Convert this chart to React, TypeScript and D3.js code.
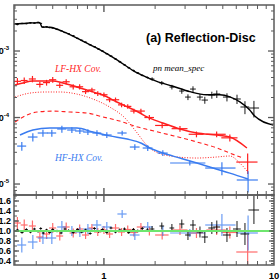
import * as d3 from "d3";

// pn mean spectrum (black)
const blackModelE = [0.296, 0.35, 0.42, 0.432, 0.48, 0.6, 0.75, 0.95, 1.2, 1.5, 1.65, 2.1, 2.55, 3.2, 4.0, 4.8, 5.5, 6.3, 7.2, 7.7, 9.9];
const blackModelV = [2.55e-3, 2.62e-3, 2.67e-3, 2.3e-3, 2.28e-3, 1.87e-3, 1.41e-3, 1.04e-3, 7.3e-4, 5.0e-4, 4.4e-4, 3.4e-4, 2.95e-4, 2.45e-4, 2.2e-4, 2.2e-4, 2.05e-4, 1.72e-4, 1.3e-4, 1.05e-4, 7.7e-5];
const blackE = [0.31, 0.33, 0.35, 0.37, 0.39, 0.41, 0.425, 0.44, 0.46, 0.48, 0.5, 0.53, 0.56, 0.59, 0.62, 0.66, 0.7, 0.74, 0.78, 0.83, 0.88, 0.93, 0.98, 1.04, 1.1, 1.17, 1.24, 1.32, 1.4, 1.49, 1.58, 1.68, 1.8, 1.92, 2.19, 2.51, 2.87, 3.12, 3.34, 3.67, 3.92, 4.31, 4.61, 5.29, 6.06, 6.75, 7.62];
const blackV = [2.5e-3, 2.6e-3, 2.58e-3, 2.66e-3, 2.62e-3, 2.7e-3, 2.6e-3, 2.28e-3, 2.32e-3, 2.25e-3, 2.22e-3, 2.12e-3, 2.02e-3, 1.9e-3, 1.82e-3, 1.7e-3, 1.55e-3, 1.45e-3, 1.36e-3, 1.24e-3, 1.16e-3, 1.07e-3, 1.0e-3, 9.1e-4, 8.4e-4, 7.6e-4, 6.9e-4, 6.2e-4, 5.6e-4, 5.1e-4, 4.7e-4, 4.3e-4, 4.0e-4, 3.79e-4, 3.3e-4, 2.87e-4, 2.5e-4, 2.03e-4, 2.68e-4, 2.03e-4, 1.83e-4, 2.18e-4, 2.26e-4, 2.03e-4, 1.9e-4, 1.44e-4, 1.39e-4];
const blackEw = [0.006, 0.007, 0.007, 0.007, 0.008, 0.008, 0.008, 0.009, 0.009, 0.01, 0.01, 0.011, 0.011, 0.012, 0.012, 0.013, 0.014, 0.015, 0.016, 0.017, 0.018, 0.019, 0.02, 0.021, 0.022, 0.023, 0.025, 0.026, 0.028, 0.03, 0.032, 0.034, 0.036, 0.06, 0.07, 0.08, 0.1, 0.12, 0.13, 0.15, 0.17, 0.2, 0.22, 0.28, 0.32, 0.4, 0.55];
const blackRel = [0.025, 0.025, 0.025, 0.025, 0.025, 0.025, 0.025, 0.025, 0.025, 0.025, 0.025, 0.025, 0.025, 0.025, 0.025, 0.025, 0.025, 0.025, 0.025, 0.025, 0.025, 0.025, 0.025, 0.025, 0.025, 0.025, 0.03, 0.03, 0.03, 0.03, 0.03, 0.03, 0.035, 0.06, 0.07, 0.08, 0.09, 0.1, 0.1, 0.11, 0.12, 0.12, 0.13, 0.14, 0.16, 0.22, 0.28];
const blackRatio = [1.02, 0.97, 1.03, 0.98, 1.04, 0.99, 1.05, 0.96, 1.02, 0.97, 1.03, 1.0, 0.96, 1.04, 1.01, 0.97, 1.03, 0.98, 1.02, 0.95, 1.05, 0.99, 1.03, 0.97, 1.06, 0.98, 1.02, 1.04, 0.97, 1.03, 1.0, 1.05, 1.02, 1.04, 1.1, 1.06, 1.14, 0.92, 1.12, 0.98, 0.88, 1.06, 1.08, 0.92, 1.04, 0.94, 1.42];

// LF-HX covariance (red)
const redModelE = [0.3, 0.334, 0.382, 0.438, 0.501, 0.574, 0.694, 0.827, 0.986, 1.19, 1.42, 1.63, 1.79, 2.22, 2.8, 3.52, 4.62, 5.5, 6.93];
const redModelV = [3.08e-4, 3.31e-4, 3.54e-4, 3.54e-4, 3.54e-4, 3.31e-4, 2.88e-4, 2.5e-4, 2.18e-4, 1.71e-4, 1.39e-4, 1.17e-4, 1.02e-4, 8.27e-5, 6.72e-5, 5.85e-5, 5.46e-5, 5.09e-5, 3.48e-5];
const redDotE = [0.3, 0.367, 0.45, 0.551, 0.694, 0.861, 1.08, 1.33, 1.52, 1.86, 2.45, 3.52, 4.62, 5.5, 6.29, 7.04];
const redDotV = [2.03e-4, 2.33e-4, 2.42e-4, 2.42e-4, 2.25e-4, 1.9e-4, 1.44e-4, 9.82e-5, 6.49e-5, 3.48e-5, 2.64e-5, 2.46e-5, 2.55e-5, 2.64e-5, 2.07e-5, 1.51e-5];
const redDashE = [0.3, 0.352, 0.404, 0.501, 0.631, 0.794, 0.986, 1.24, 1.58, 1.86, 2.45, 3.52, 4.62, 5.5, 6.56];
const redDashV = [8.55e-5, 1.09e-4, 1.21e-4, 1.25e-4, 1.21e-4, 1.17e-4, 1.02e-4, 8.85e-5, 7.19e-5, 6.49e-5, 5.46e-5, 4.29e-5, 3.48e-5, 2.92e-5, 2.46e-5];
const redE = [0.31, 0.34, 0.38, 0.42, 0.46, 0.5, 0.55, 0.6, 0.66, 0.72, 0.78, 0.85, 0.92, 1.0, 1.08, 1.17, 1.27, 1.38, 1.5, 1.65, 1.85, 2.2, 2.8, 3.5, 4.6, 5.5, 7.0];
const redV = [3.5e-4, 3.6e-4, 3.8e-4, 3.15e-4, 3.35e-4, 3.7e-4, 3.05e-4, 3.45e-4, 2.9e-4, 2.9e-4, 2.45e-4, 2.6e-4, 2.3e-4, 2.2e-4, 1.85e-4, 1.85e-4, 1.55e-4, 1.47e-4, 1.25e-4, 1.25e-4, 1.0e-4, 7.6e-5, 6.8e-5, 5.6e-5, 5.6e-5, 4.95e-5, 2.14e-5];
const redEw = [0.015, 0.016, 0.018, 0.02, 0.022, 0.024, 0.026, 0.029, 0.032, 0.035, 0.037, 0.04, 0.045, 0.05, 0.05, 0.06, 0.06, 0.07, 0.07, 0.09, 0.12, 0.2, 0.3, 0.35, 0.6, 0.6, 1.0];
const redRel = [0.12, 0.11, 0.11, 0.1, 0.1, 0.1, 0.09, 0.09, 0.09, 0.09, 0.08, 0.08, 0.08, 0.08, 0.08, 0.08, 0.08, 0.08, 0.08, 0.08, 0.09, 0.09, 0.1, 0.1, 0.1, 0.12, 0.34];
const redRatio = [1.16, 1.12, 1.1, 0.88, 0.94, 1.06, 0.9, 1.08, 0.96, 1.04, 0.92, 1.06, 0.98, 1.02, 0.94, 1.06, 0.98, 1.03, 0.97, 1.08, 1.0, 0.92, 1.02, 0.96, 1.02, 0.97, 0.58];

// HF-HX covariance (blue)
const blueModelE = [0.321, 0.382, 0.481, 0.574, 0.694, 0.861, 1.08, 1.37, 1.66, 1.86, 2.22, 2.8, 3.52, 4.38, 5.5, 7.04];
const blueModelV = [5.46e-5, 6.49e-5, 6.95e-5, 6.95e-5, 6.95e-5, 6.05e-5, 5.3e-5, 4.75e-5, 4.1e-5, 3.48e-5, 2.92e-5, 2.46e-5, 2.07e-5, 1.74e-5, 1.46e-5, 1.19e-5];
const blueE = [0.329, 0.382, 0.438, 0.494, 0.566, 0.648, 0.722, 0.805, 0.91, 1.04, 1.28, 1.52, 1.81, 2.22, 3.2, 4.94, 7.04];
const blueV = [3.72e-5, 5.09e-5, 5.85e-5, 5.85e-5, 6.72e-5, 6.49e-5, 6.27e-5, 6.05e-5, 5.85e-5, 5.46e-5, 5.85e-5, 3.6e-5, 3.48e-5, 2.92e-5, 2.07e-5, 1.74e-5, 1.15e-5];
const blueEw = [0.02, 0.025, 0.03, 0.03, 0.035, 0.04, 0.045, 0.05, 0.055, 0.07, 0.08, 0.1, 0.12, 0.15, 0.75, 1.0, 1.0];
const blueRel = [0.15, 0.14, 0.12, 0.12, 0.12, 0.1, 0.1, 0.1, 0.1, 0.1, 0.08, 0.1, 0.1, 0.1, 0.08, 0.22, 0.35];
const blueRatio = [0.72, 0.78, 0.86, 0.86, 1.08, 1.0, 0.98, 1.04, 1.12, 1.08, 1.34, 0.92, 1.08, 1.0, 0.96, 1.12, 0.96];

const decades = [1e-3, 1e-4, 1e-5];
const decadeLabels = ["-3", "-4", "-5"];
const ratioTicks = [0.4, 0.6, 0.8, 1.0, 1.2, 1.4, 1.6];
const xLabels = [1, 10];

const RED = "#ff1f1f";
const BLUE = "#3a7cf0";
const FRAME = "#5a5a5a";

const x = d3.scaleLog().domain([0.296, 10]).range([14, 274]);
const yTop = d3.scaleLog().domain([6.84e-6, 4.92e-3]).range([195, 5]);
const yRes = d3.scaleLinear().domain([0.32, 1.72]).range([265, 195]);

const xMinor = [0.3, 0.4, 0.5, 0.6, 0.7, 0.8, 0.9, 2, 3, 4, 5, 6, 7, 8, 9];
const yMinor: number[] = [];
[1e-6, 1e-5, 1e-4, 1e-3].forEach((d) => {
  for (let k = 2; k <= 9; k++) {
    const v = d * k;
    if (v > 6.84e-6 && v < 4.92e-3) yMinor.push(v);
  }
});
const resMinor = d3.range(0.35, 1.71, 0.05);

const lineTop = (E: number[], V: number[]) =>
  d3
    .line<number>()
    .x((_, i) => x(E[i]))
    .y((d) => yTop(d))
    .curve(d3.curveMonotoneX)(V) || "";

function Crosses({ E, V, Ew, rel, color, sw }: any) {
  return (
    <g stroke={color} strokeWidth={sw}>
      {E.map((e: number, i: number) => (
        <g key={i}>
          <line x1={x(e - Ew[i])} x2={x(e + Ew[i])} y1={yTop(V[i])} y2={yTop(V[i])} />
          <line x1={x(e)} x2={x(e)} y1={yTop(V[i] * (1 + rel[i]))} y2={yTop(V[i] * (1 - rel[i]))} />
        </g>
      ))}
    </g>
  );
}

function ResCrosses({ E, R, Ew, rel, color, sw, op }: any) {
  return (
    <g stroke={color} strokeWidth={sw} opacity={op}>
      {E.map((e: number, i: number) => (
        <g key={i}>
          <line x1={x(e - Ew[i])} x2={x(e + Ew[i])} y1={yRes(R[i])} y2={yRes(R[i])} />
          <line x1={x(e)} x2={x(e)} y1={yRes(R[i] + rel[i])} y2={yRes(R[i] - rel[i])} />
        </g>
      ))}
    </g>
  );
}

export default function App() {
  const sans = "'Liberation Sans', Arial, sans-serif";
  const serif = "'Liberation Serif', 'Times New Roman', serif";
  return (
    <svg width={280} height={280} style={{ position: "absolute", left: 0, top: 0, background: "#fff" }}>
      <defs>
        <clipPath id="top">
          <rect x={14} y={5} width={260} height={190} />
        </clipPath>
        <clipPath id="res">
          <rect x={14} y={195} width={260} height={70} />
        </clipPath>
      </defs>

      {/* upper panel */}
      <g clipPath="url(#top)" fill="none">
        <path d={lineTop(blackModelE, blackModelV)} stroke="#000" strokeWidth={1.4} />
        <Crosses E={blackE} V={blackV} Ew={blackEw} rel={blackRel} color="#000" sw={0.9} />
        <path d={lineTop(redDotE, redDotV)} stroke={RED} strokeWidth={1} strokeDasharray="1,1.6" />
        <path d={lineTop(redDashE, redDashV)} stroke={RED} strokeWidth={1.1} strokeDasharray="4,3" />
        <path d={lineTop(redModelE, redModelV)} stroke={RED} strokeWidth={1.5} />
        <Crosses E={redE} V={redV} Ew={redEw} rel={redRel} color={RED} sw={1.2} />
        <path d={lineTop(blueModelE, blueModelV)} stroke={BLUE} strokeWidth={1.5} />
        <Crosses E={blueE} V={blueV} Ew={blueEw} rel={blueRel} color={BLUE} sw={1.2} />
      </g>

      {/* residual panel */}
      <g clipPath="url(#res)">
        <ResCrosses E={redE} R={redRatio} Ew={redEw} rel={redRel} color="#ff3b3b" sw={1.2} op={0.75} />
        <ResCrosses E={blueE} R={blueRatio} Ew={blueEw} rel={blueRel} color={BLUE} sw={1.2} op={0.75} />
        <ResCrosses E={blackE} R={blackRatio} Ew={blackEw} rel={blackRel} color="#000" sw={0.9} op={1} />
        <line x1={14} x2={274} y1={yRes(1)} y2={yRes(1)} stroke="#6ee66e" strokeWidth={2} />
      </g>

      {/* x ticks */}
      <g stroke={FRAME} strokeWidth={1}>
        {xMinor.map((t) => (
          <g key={t}>
            <line x1={x(t)} x2={x(t)} y1={5} y2={9} />
            <line x1={x(t)} x2={x(t)} y1={195} y2={191} />
            <line x1={x(t)} x2={x(t)} y1={195} y2={199} />
            <line x1={x(t)} x2={x(t)} y1={265} y2={261} />
          </g>
        ))}
        <line x1={x(1)} x2={x(1)} y1={5} y2={12} strokeWidth={1.4} />
        <line x1={x(1)} x2={x(1)} y1={188} y2={202} strokeWidth={1.4} />
        <line x1={x(1)} x2={x(1)} y1={265} y2={258} strokeWidth={1.4} />
      </g>

      {/* y ticks upper */}
      <g stroke={FRAME} strokeWidth={1}>
        {yMinor.map((t) => (
          <g key={t}>
            <line x1={14} x2={17} y1={yTop(t)} y2={yTop(t)} />
            <line x1={274} x2={271} y1={yTop(t)} y2={yTop(t)} />
          </g>
        ))}
        {decades.map((t) => (
          <g key={t}>
            <line x1={14} x2={20} y1={yTop(t)} y2={yTop(t)} strokeWidth={1.3} />
            <line x1={274} x2={268} y1={yTop(t)} y2={yTop(t)} strokeWidth={1.3} />
          </g>
        ))}
        {resMinor.map((t) => (
          <line key={t} x1={274} x2={271} y1={yRes(t)} y2={yRes(t)} />
        ))}
        {d3.range(0.4, 1.71, 0.1).map((t) => (
          <line key={t} x1={14} x2={17} y1={yRes(t)} y2={yRes(t)} />
        ))}
        {ratioTicks.map((t) => (
          <g key={t}>
            <line x1={14} x2={19} y1={yRes(t)} y2={yRes(t)} strokeWidth={1.3} />
            <line x1={274} x2={269} y1={yRes(t)} y2={yRes(t)} strokeWidth={1.3} />
          </g>
        ))}
      </g>

      {/* frames */}
      <rect x={14} y={5} width={260} height={190} fill="none" stroke={FRAME} strokeWidth={1.5} />
      <rect x={14} y={195} width={260} height={70} fill="none" stroke={FRAME} strokeWidth={1.5} />

      {/* tick labels */}
      <g fontFamily={sans} fontWeight="bold" fill="#000">
        {decades.map((t, i) => (
          <text key={t} x={9} y={yTop(t) + 3} fontSize={9} textAnchor="end">
            10
            <tspan dy={-4} fontSize={6}>
              {decadeLabels[i]}
            </tspan>
          </text>
        ))}
        {ratioTicks.map((t) => (
          <text key={t} x={11} y={yRes(t) + 3.3} fontSize={9} textAnchor="end">
            {t.toFixed(1)}
          </text>
        ))}
        {xLabels.map((t) => (
          <text key={t} x={x(t)} y={279} fontSize={9.5} textAnchor="middle">
            {t}
          </text>
        ))}
      </g>

      {/* annotations */}
      <text x={146} y={42} fontFamily={sans} fontWeight="bold" fontSize={12.5} fill="#000">
        (a) Reflection-Disc
      </text>
      <text x={153} y={71} fontFamily={serif} fontStyle="italic" fontSize={9} fill="#000">
        pn mean_spec
      </text>
      <text x={55} y={72} fontFamily={serif} fontStyle="italic" fontSize={9.5} fill={RED}>
        LF-HX Cov.
      </text>
      <text x={55} y={161} fontFamily={serif} fontStyle="italic" fontSize={9.5} fill={BLUE}>
        HF-HX Cov.
      </text>
    </svg>
  );
}
